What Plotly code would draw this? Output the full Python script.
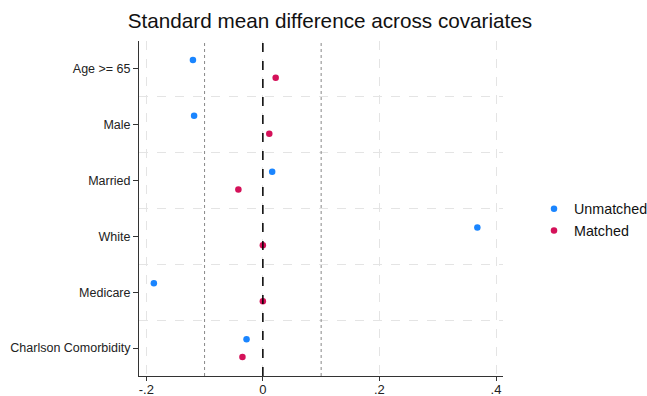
import plotly.graph_objects as go

covariates = ["Age >= 65", "Male", "Married", "White", "Medicare", "Charlson Comorbidity"]
unmatched = [-0.120, -0.118, 0.016, 0.368, -0.187, -0.028]
matched = [0.022, 0.011, -0.042, 0.000, 0.000, -0.035]
x_ticks = [-0.2, 0, 0.2, 0.4]
x_ticklabels = ["-.2", "0", ".2", ".4"]

n = len(covariates)
pos = [n - i for i in range(n)]  # top to bottom
off = 0.16

W, H = 647, 396
L, R, T, B = 139, 144, 41, 20

fig = go.Figure()
fig.add_trace(go.Scatter(
    x=unmatched, y=[p + off for p in pos], mode="markers", name="Unmatched",
    marker=dict(color="#1a85ff", size=6.5, line=dict(width=0)),
))
fig.add_trace(go.Scatter(
    x=matched, y=[p - off for p in pos], mode="markers", name="Matched",
    marker=dict(color="#d41159", size=6.5, line=dict(width=0)),
))

# reference lines
for xv, dash, col, w in [(-0.1, "dot", "#888888", 1), (0.1, "dot", "#888888", 1), (0, "dash", "#000000", 1.5)]:
    fig.add_shape(type="line", xref="x", yref="paper", x0=xv, x1=xv, y0=0, y1=1,
                  line=dict(color=col, width=w, dash=dash), layer="above")

fig.update_layout(
    width=W, height=H,
    margin=dict(l=L, r=R, t=T, b=B, pad=0, autoexpand=False),
    paper_bgcolor="white", plot_bgcolor="white",
    font=dict(family="Liberation Sans, Arial, sans-serif", color="#222222", size=13),
    title=dict(text="Standard mean difference across covariates",
               x=330 / W, xref="container", xanchor="center",
               y=1 - 21 / H, yref="container", yanchor="middle",
               font=dict(size=20.7, color="#111111")),
    showlegend=True,
    legend=dict(x=(534 - L) / (W - L - R), xanchor="left", y=(H - B - 220) / (H - T - B), yanchor="middle",
                font=dict(size=14.3, color="#111111"), bgcolor="rgba(0,0,0,0)",
                itemsizing="trace", tracegroupgap=0),
    xaxis=dict(
        range=[-0.2125, 0.412], tickvals=x_ticks, ticktext=x_ticklabels,
        showgrid=True, gridcolor="#e4e4e4", griddash="dash", gridwidth=1,
        zeroline=False, showline=True, linecolor="#333333", linewidth=1,
        ticks="outside", ticklen=4, tickcolor="#333333", automargin=False,
        ticklabelstandoff=-3,
        tickfont=dict(size=13, color="#222222"), mirror=False,
    ),
    yaxis=dict(
        range=[0.5, 6.5], tickvals=pos, ticktext=covariates,
        showgrid=False, zeroline=False, showline=True, linecolor="#333333", linewidth=1,
        ticks="outside", ticklen=5, tickcolor="#333333", automargin=False,
        tickfont=dict(size=12.5, color="#222222"),
        minor=dict(tick0=0.5, dtick=1, showgrid=True, gridcolor="#e4e4e4", griddash="dash", gridwidth=1, ticks=""),
    ),
)

fig.write_html("out.html", config={"displayModeBar": False},
               post_script="document.body.style.margin='0';document.body.style.padding='0';")
